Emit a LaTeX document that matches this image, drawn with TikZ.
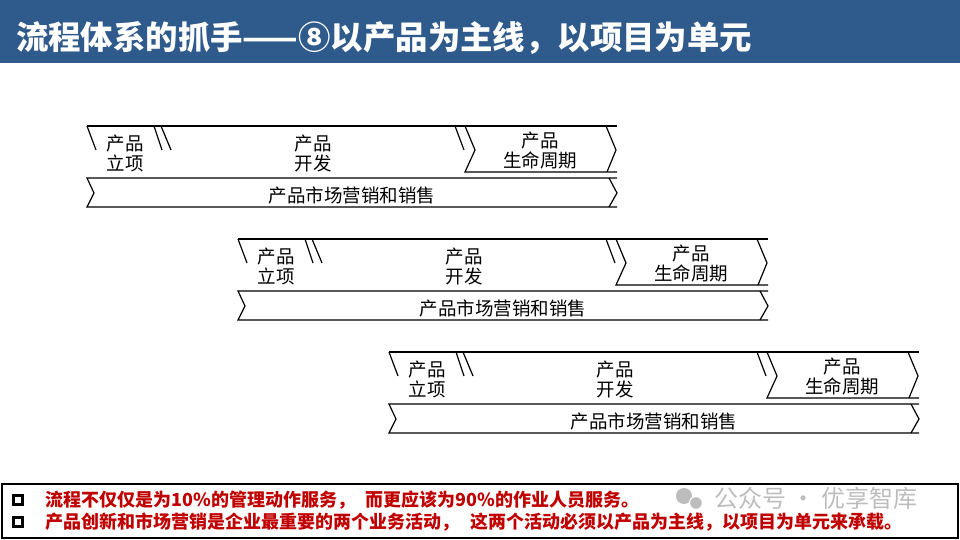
\documentclass[tikz,border=0pt]{standalone}
\usepackage{fontspec}
\setmainfont{Noto Sans CJK SC}
\usepackage{xcolor}
\usepackage{tikz}
\usetikzlibrary{positioning}
\definecolor{titlecolor}{HTML}{2F5A8C}
\definecolor{notecolor}{HTML}{C00000}
\definecolor{markcolor}{HTML}{BDBDBD}

\begin{document}
\begin{tikzpicture}[
  x=0.5pt, y=-0.5pt,
  edge/.style={line width=0.6pt, black},
  phase/.style={
    align=center, inner sep=0pt,
    font=\fontsize{9.25}{10}\selectfont
  },
  note/.style={
    anchor=west, inner sep=0pt, text=notecolor,
    font=\fontsize{9}{10}\selectfont\bfseries
  },
  tickbox/.style={draw, line width=1.2pt, minimum size=4.5pt, inner sep=0pt},
  wmark/.style={font=\fontsize{12}{12}\selectfont, text=markcolor, inner sep=0pt}
]

  \useasboundingbox (0,0) rectangle (960,540);

  % ── Title bar ──
  \fill[titlecolor] (0,0) rectangle (960,63);
  \node[anchor=west, text=white, font=\fontsize{16.2}{16}\selectfont\bfseries] (title)
    at (9,38) {流程体系的抓手——⑧以产品为主线，以项目为单元};

  % ── Project 1 ──
  \begin{scope}
    \draw[edge] (87,126) -- (617,126);
    \draw[edge] (87,126) -- (96,150);
    \draw[edge] (154,126) -- (162,150) (161,126) -- (171,150);
    \draw[edge] (455,126) -- (464,150);
    \draw[edge] (465,126) -- (475,150) -- (465,172) -- (617,172);
    \draw[edge] (606,126) -- (616,150) -- (607,172);
    \draw[edge] (617,178) -- (87,178) -- (94,193) -- (87,207) -- (617,207);
    \draw[edge] (609,178) -- (617,193) -- (609,207);
    \node[phase] (start1) at (125,153) {产品\\立项};
    \node[phase] (dev1) at (313,153) {产品\\开发};
    \node[phase] (life1) at (540,151) {产品\\生命周期};
    \node[phase] (mkt1) at (352,195) {产品市场营销和销售};
  \end{scope}

  % ── Project 2 ──
  \begin{scope}[shift={(151,113)}]
    \draw[edge] (87,126) -- (617,126);
    \draw[edge] (87,126) -- (96,150);
    \draw[edge] (154,126) -- (162,150) (161,126) -- (171,150);
    \draw[edge] (455,126) -- (464,150);
    \draw[edge] (465,126) -- (475,150) -- (465,172) -- (617,172);
    \draw[edge] (606,126) -- (616,150) -- (607,172);
    \draw[edge] (617,178) -- (87,178) -- (94,193) -- (87,207) -- (617,207);
    \draw[edge] (609,178) -- (617,193) -- (609,207);
    \node[phase] (start2) at (125,153) {产品\\立项};
    \node[phase] (dev2) at (313,153) {产品\\开发};
    \node[phase] (life2) at (540,151) {产品\\生命周期};
    \node[phase] (mkt2) at (352,195) {产品市场营销和销售};
  \end{scope}

  % ── Project 3 ──
  \begin{scope}[shift={(302,226)}]
    \draw[edge] (87,126) -- (617,126);
    \draw[edge] (87,126) -- (96,150);
    \draw[edge] (154,126) -- (162,150) (161,126) -- (171,150);
    \draw[edge] (455,126) -- (464,150);
    \draw[edge] (465,126) -- (475,150) -- (465,172) -- (617,172);
    \draw[edge] (606,126) -- (616,150) -- (607,172);
    \draw[edge] (617,178) -- (87,178) -- (94,193) -- (87,207) -- (617,207);
    \draw[edge] (609,178) -- (617,193) -- (609,207);
    \node[phase] (start3) at (125,153) {产品\\立项};
    \node[phase] (dev3) at (313,153) {产品\\开发};
    \node[phase] (life3) at (540,151) {产品\\生命周期};
    \node[phase] (mkt3) at (352,195) {产品市场营销和销售};
  \end{scope}

  % ── Notes ──
  \draw[line width=0.8pt] (2,484) rectangle (958,538);
  \node[tickbox] (box1) at (18,500) {};
  \node[tickbox] (box2) at (18,522) {};
  \node[note] (note1) at (45,500)
    {流程不仅仅是为10\%的管理动作服务，\hspace{0.6em}而更应该为90\%的作业人员服务。};
  \node[note] (note2) at (45,522)
    {产品创新和市场营销是企业最重要的两个业务活动，\hspace{0.6em}这两个活动必须以产品为主线，以项目为单元来承载。};

  % ── Watermark ──
  \fill[markcolor] (684,496) circle (8);
  \fill[markcolor, draw=white, line width=0.6pt] (696,503) circle (6.5);
  \node[wmark, anchor=west] (mark) at (714,498) {公众号 · 优享智库};

\end{tikzpicture}
\end{document}
